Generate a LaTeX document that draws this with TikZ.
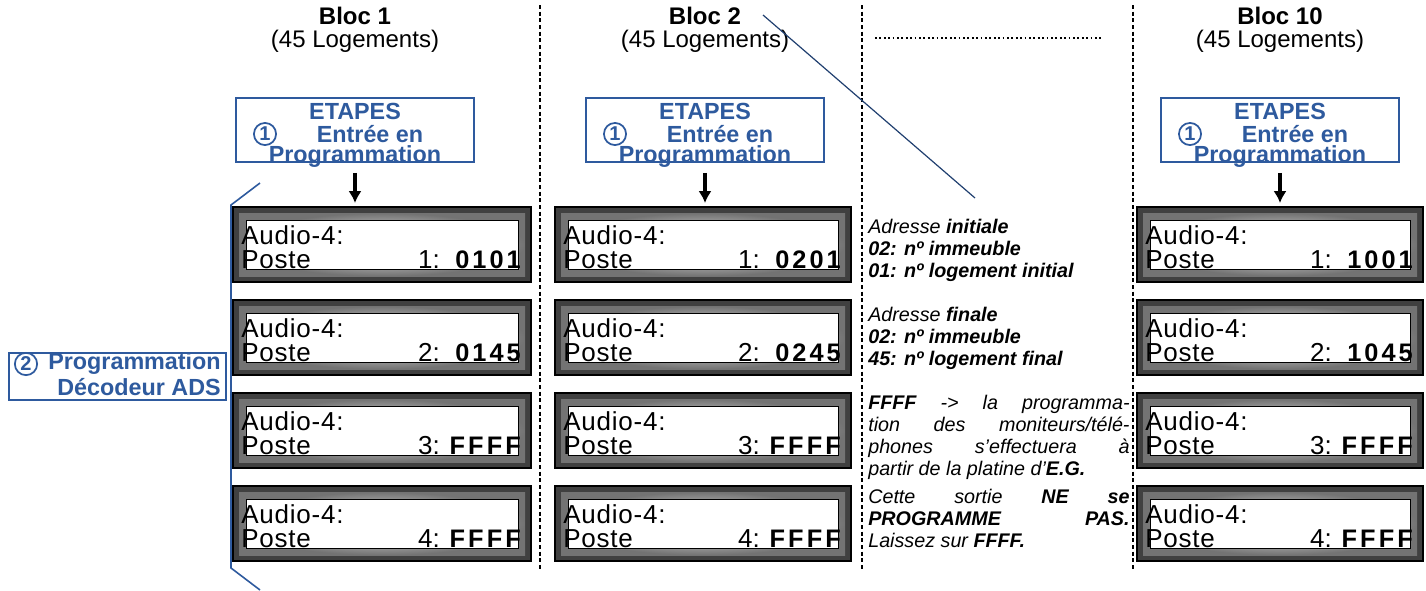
\documentclass[tikz,border=0pt]{standalone}
\usepackage{fontspec}
\setmainfont{Liberation Sans}
\usetikzlibrary{arrows.meta}
\begin{document}
\begin{tikzpicture}[x=0.75pt,y=-0.75pt,
  blu/.style={draw=bl,line width=1.2pt},
  hdr/.style={font=\fontsize{18}{21}\selectfont\bfseries,align=center},
  sub/.style={font=\fontsize{18}{21}\selectfont},
  etxt/.style={font=\fontsize{17.5}{20}\selectfont\bfseries,text=bl,inner sep=0},
  dtxt/.style={font=\fontsize{19.5}{21}\selectfont,anchor=base west,inner sep=0},
  note/.style={font=\fontsize{14.8}{16.5}\selectfont\itshape,text width=196pt,align=justify,anchor=north west,inner sep=0},
  sep/.style={densely dashed,line width=1pt},
  arr/.style={line width=2.6pt,-{Latex[length=9pt,width=10pt]}},
  circ/.style={circle,draw=bl,line width=1.3pt,inner sep=1.2pt,font=\fontsize{15}{15}\selectfont\bfseries,text=bl}]
\definecolor{bl}{HTML}{2E5A9E}
\useasboundingbox (0,0) rectangle (1426,590);
\newcommand{\disp}[6]{% name, x, y, n, value, width
  \fill[black!75] (#2,#3) rectangle ++(#6,75);
  \draw[black,line width=0.8pt] (#2,#3) rectangle ++(#6,75);
  \shade[inner color=white,outer color=black!55] (#2+6,#3+6) rectangle ++(#6-12,63);
  \node[draw=black,line width=0.6pt,fill=white,minimum width=(#6-26)*0.75pt,minimum height=49*0.75pt,inner sep=0,anchor=north west] (#1) at (#2+13,#3+13) {};
  \node[dtxt] at (#2+8,#3+37) {\addfontfeature{LetterSpace=3}Audio-4:};
  \node[dtxt] at (#2+8,#3+61) {\addfontfeature{LetterSpace=3}Poste};
  \node[dtxt,anchor=base east] at (#2+#6-91,#3+61) {#4:};
  \node[dtxt,anchor=base east,font=\fontsize{19}{21}\selectfont\bfseries] at (#2+#6-10,#3+61) {\addfontfeature{LetterSpace=12}#5};
}
\newcommand{\col}[7]{% prefix, xdisp, xcenter, v1,v2,label,width
  \node[hdr] (#1h) at (#3,16) {Bloc #6};
  \node[sub] (#1s) at (#3,41) {(45 Logements)};
  \node[blu,draw,minimum width=238*0.75pt,minimum height=64*0.75pt,inner sep=0] (#1e) at (#3,130) {};
  \node[etxt] at (#3,111) {ETAPES};
  \node[etxt] at (#3+15,134) {Entr\'ee en};
  \node[etxt] at (#3,157) {Programmation};
  \node[circ] at (#3-90,134) {1};
  \disp{#1d1}{#2}{207}{1}{#4}{#7}
  \disp{#1d2}{#2}{300}{2}{#5}{#7}
  \disp{#1d3}{#2}{393}{3}{FFFF}{#7}
  \disp{#1d4}{#2}{486}{4}{FFFF}{#7}
  \coordinate (#1t) at (#3,203);
  \draw[arr] (#1e.south)++(0,10) -- (#1t);
}
\col{a}{233}{355}{0101}{0145}{1}{298}
\col{b}{555}{705}{0201}{0245}{2}{296}
\col{c}{1137}{1280}{1001}{1045}{10}{286}
% separators
\draw[sep] (540,5) -- (540,570);
\draw[sep] (862,5) -- (862,570);
\draw[sep] (1133,5) -- (1133,570);
\draw[dotted,line width=1.3pt] (875,38) -- (1103,38);
% diagonal line
\coordinate (p1) at (763,15); \coordinate (p2) at (975,198);
\draw[bl!70!black,line width=0.9pt] (p1) -- (p2);
% bracket
\coordinate (k1) at (260,183); \coordinate (k2) at (231,205);
\coordinate (k3) at (231,568); \coordinate (k4) at (260,590);
\draw[bl,line width=1.2pt] (k1) -- (k2) -- (k3) -- (k4);
\node[blu,draw,minimum width=217*0.75pt,minimum height=47*0.75pt,inner sep=0,anchor=north west] (s2) at (8,352) {};
\node[etxt,anchor=east] (s2a) at (221,364) {Programmation};
\node[etxt,anchor=east] (s2b) at (221,387) {D\'ecodeur ADS};
\node[circ] at (26,364) {2};
% notes
\node[note] (n1) at (868,219) {Adresse \textbf{initiale}\\\textbf{02: nº immeuble}\\\textbf{01: nº logement initial}};
\node[note] (n2) at (868,307) {Adresse \textbf{finale}\\\textbf{02: nº immeuble}\\\textbf{45: nº logement final}};
\node[note] (n3) at (868,395) {\textbf{FFFF} -> la programma-\linebreak tion des moniteurs/télé-\linebreak phones s’effectuera à\linebreak partir de la platine d’\textbf{E.G.}};
\node[note] (n4) at (868,489) {Cette sortie \textbf{NE se}\linebreak \textbf{PROGRAMME PAS.}\linebreak Laissez sur \textbf{FFFF.}};
\end{tikzpicture}
\end{document}
